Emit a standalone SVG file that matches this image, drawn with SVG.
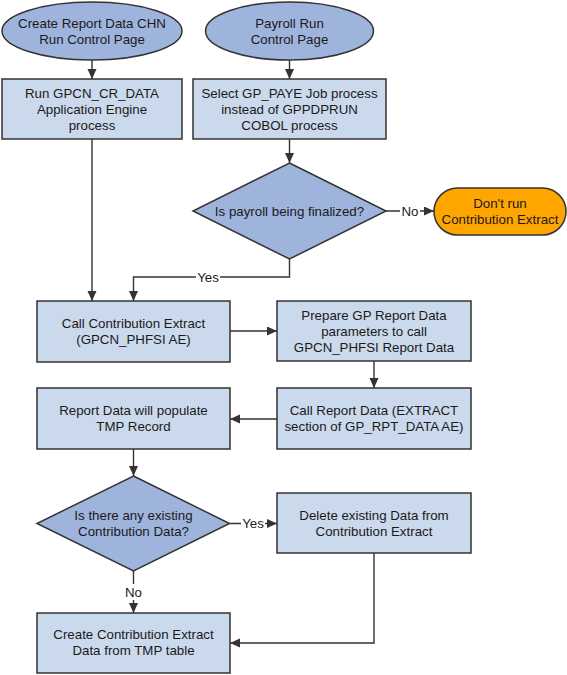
<svg xmlns="http://www.w3.org/2000/svg" width="567" height="675" viewBox="0 0 567 675">
<style>
.term{fill:#9fb4dc;stroke:#333;stroke-width:1.5}
.box{fill:#cbd9ec;stroke:#333;stroke-width:1.5}
.dec{fill:#9fb4dc;stroke:#333;stroke-width:1.5}
.stop{fill:#ffa500;stroke:#333;stroke-width:1.5}
text{font-family:"Liberation Sans",Arial,sans-serif;font-size:13.3px;fill:#1a1a1a;text-anchor:middle}
.edge{fill:none;stroke:#333;stroke-width:1.4;marker-end:url(#arr)}
.lblbg{fill:#fff}
</style>
<defs>
<marker id="arr" markerUnits="userSpaceOnUse" markerWidth="12" markerHeight="10" refX="10" refY="4.5" orient="auto">
<path d="M0,0 L10,4.5 L0,9 Z" fill="#333"/>
</marker>
</defs>
<g id="connectors">
<path class="edge" d="M92,60 V79"/>
<path class="edge" d="M289.5,60 V79"/>
<path class="edge" d="M92,139 V301"/>
<path class="edge" d="M289.5,139 V163"/>
<path class="edge" d="M386,211 H434"/>
<rect class="lblbg" x="400" y="203" width="20" height="16"/>
<text x="410" y="215.5">No</text>
<path class="edge" d="M289.5,259 V277 H133.5 V301"/>
<rect class="lblbg" x="196" y="269" width="24" height="16"/>
<text x="208" y="281.5">Yes</text>
<path class="edge" d="M230,331 H277"/>
<path class="edge" d="M374,361 V388"/>
<path class="edge" d="M277,419 H230"/>
<path class="edge" d="M133.5,449 V476"/>
<path class="edge" d="M229.5,523.5 H277"/>
<rect class="lblbg" x="241" y="515" width="24" height="16"/>
<text x="253" y="528">Yes</text>
<path class="edge" d="M133.5,571 V613"/>
<rect class="lblbg" x="123" y="584" width="21" height="16"/>
<text x="133.5" y="596.5">No</text>
<path class="edge" d="M374,553 V643 H230"/>
</g>
<g id="n1">
<ellipse class="term" cx="92" cy="31" rx="90" ry="29"/>
<text x="92" y="27.5">Create Report Data CHN</text>
<text x="92" y="43.5">Run Control Page</text>
</g>
<g id="n2">
<ellipse class="term" cx="289.5" cy="31" rx="84" ry="29"/>
<text x="289.5" y="27.5">Payroll Run</text>
<text x="289.5" y="43.5">Control Page</text>
</g>
<g id="n3">
<rect class="box" x="2" y="79" width="180" height="60"/>
<text x="92" y="97.5">Run GPCN_CR_DATA</text>
<text x="92" y="113.5">Application Engine</text>
<text x="92" y="129.5">process</text>
</g>
<g id="n4">
<rect class="box" x="193" y="79" width="193" height="60"/>
<text x="289.5" y="97.5">Select GP_PAYE Job process</text>
<text x="289.5" y="113.5">instead of GPPDPRUN</text>
<text x="289.5" y="129.5">COBOL process</text>
</g>
<g id="n5">
<polygon class="dec" points="289.5,163 386,211 289.5,259 193,211"/>
<text x="289.5" y="215.5">Is payroll being finalized?</text>
</g>
<g id="n6">
<rect class="stop" x="434" y="188" width="132" height="47" rx="23.5" ry="23.5"/>
<text x="500" y="207.5">Don't run</text>
<text x="500" y="223.5">Contribution Extract</text>
</g>
<g id="n7">
<rect class="box" x="37" y="301" width="193" height="61"/>
<text x="133.5" y="327.5">Call Contribution Extract</text>
<text x="133.5" y="343.5">(GPCN_PHFSI AE)</text>
</g>
<g id="n8">
<rect class="box" x="277" y="301" width="194" height="60"/>
<text x="374" y="319.5">Prepare GP Report Data</text>
<text x="374" y="335.5">parameters to call</text>
<text x="374" y="351.5">GPCN_PHFSI Report Data</text>
</g>
<g id="n9">
<rect class="box" x="37" y="388" width="193" height="61"/>
<text x="133.5" y="414.5">Report Data will populate</text>
<text x="133.5" y="430.5">TMP Record</text>
</g>
<g id="n10">
<rect class="box" x="277" y="388" width="194" height="61"/>
<text x="374" y="414.5">Call Report Data (EXTRACT</text>
<text x="374" y="430.5">section of GP_RPT_DATA AE)</text>
</g>
<g id="n11">
<polygon class="dec" points="133.5,476 229.5,523.5 133.5,571 37,523.5"/>
<text x="133.5" y="519.5">Is there any existing</text>
<text x="133.5" y="535.5">Contribution Data?</text>
</g>
<g id="n12">
<rect class="box" x="277" y="493" width="194" height="60"/>
<text x="374" y="519.5">Delete existing Data from</text>
<text x="374" y="535.5">Contribution Extract</text>
</g>
<g id="n13">
<rect class="box" x="37" y="613" width="193" height="60"/>
<text x="133.5" y="638.5">Create Contribution Extract</text>
<text x="133.5" y="655">Data from TMP table</text>
</g>
</svg>
